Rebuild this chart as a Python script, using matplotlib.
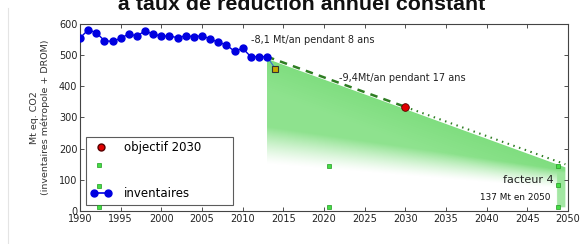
import numpy as np
import matplotlib
matplotlib.use("Agg")
import matplotlib.pyplot as plt
from matplotlib.patches import Polygon
from matplotlib.lines import Line2D
from matplotlib.legend_handler import HandlerLine2D

# inventories 1990-2013 (Mt eq. CO2)
inv_years = np.arange(1990, 2014)
inv_values = [555, 581, 572, 546, 544, 554, 568, 561, 578, 567, 561, 561,
              556, 562, 559, 562, 552, 541, 533, 512, 522, 495, 495, 495]

# estimate 2014
est_year = [2013, 2014]
est_value = [495, 457]

# trajectory: dashed to 2030 objective, dotted to 2050
traj_years = [2013, 2030]
traj_values = [495, 334]
traj2_years = [2030, 2049.7]
traj2_values = [334, 150]
obj_year = 2030
obj_value = 334

# green square markers
sq_x = [1992.3, 1992.3, 1992.3, 2020.6, 2020.6, 2048.8, 2048.8, 2048.8]
sq_y = [147, 80, 14, 145, 14, 145, 82, 14]

# shaded zone
zone_x = [2013, 2049.7, 2049.7, 2013]
zone_y = [488, 140, 12, 12]


class RightDot(HandlerLine2D):
    # single marker drawn at the right end of the handle
    def get_xdata(self, legend, xdescent, ydescent, width, height, fontsize):
        xd, xm = super().get_xdata(legend, xdescent, ydescent, width, height, fontsize)
        return xd, [xd[-1]]


fig = plt.figure(figsize=(5.8, 2.44), dpi=100)
ax = fig.add_axes([0.138, 0.135, 0.841, 0.767])

# gradient fill clipped to the zone
gx = np.linspace(2013, 2049.7, 400)
gy = np.linspace(0, 500, 400)
X, Y = np.meshgrid(gx, gy)
t = (X - 2013) / 36.7
fade0 = 150 - 80 * t
width = 120 - 60 * t
alpha = np.clip((Y - fade0) / width, 0, 1) ** 1.3
alpha = np.where(X > 2048.6, np.maximum(alpha, 0.8), alpha)
top = 488 - 348 * t
band = np.clip(1 - (top - Y) / 110, 0, 1)
img = np.zeros(X.shape + (4,))
img[..., 0] = 0.56 - 0.06 * band
img[..., 1] = 0.89 - 0.02 * band
img[..., 2] = 0.56 - 0.06 * band
img[..., 3] = alpha
poly = Polygon(list(zip(zone_x, zone_y)), closed=True, facecolor='none', edgecolor='none')
ax.add_patch(poly)
im = ax.imshow(img, extent=[gx[0], gx[-1], gy[0], gy[-1]], origin='lower',
               aspect='auto', interpolation='bilinear', zorder=1)
im.set_clip_path(poly)

ax.plot(traj_years, traj_values, color='#2e7d22', lw=1.8, ls=(0, (3, 2.5)), zorder=3)
ax.plot(traj2_years, traj2_values, color='#2e7d22', lw=1.5, ls=(0, (0.7, 2.2)), zorder=3)

ax.plot(est_year, est_value, color='#3a6fd0', lw=0.8, zorder=3)
ax.plot(est_year[1], est_value[1], marker='s', ms=4, color='#c8a800',
        mec='#333333', mew=0.8, ls='none', zorder=4)

ax.plot(inv_years, inv_values, color='#0000e0', lw=1.0, marker='o', ms=5,
        mfc='#0000e0', mec='#0000e0', zorder=5)
ax.plot(obj_year, obj_value, marker='o', ms=5.5, color='#e00000',
        mec='#550000', mew=0.6, ls='none', zorder=5)

ax.plot(sq_x, sq_y, marker='s', ms=3.2, ls='none', color='#44dd44',
        mec='#229922', mew=0.5, zorder=9)

ax.text(2011.0, 548, "-8,1 Mt/an pendant 8 ans", fontsize=7, color='#222222',
        va='center', ha='left', zorder=6)
ax.text(2021.9, 426, "-9,4Mt/an pendant 17 ans", fontsize=7, color='#222222',
        va='center', ha='left', zorder=6)
ax.text(2048.2, 100, "facteur 4", fontsize=8, color='#222222',
        va='center', ha='right', zorder=6)
ax.text(2047.9, 45, "137 Mt en 2050", fontsize=6.4, color='#111111',
        va='center', ha='right', zorder=6,
        bbox=dict(facecolor='white', edgecolor='none', pad=3))

ax.set_xlim(1990, 2050)
ax.set_ylim(0, 600)
ax.set_xticks(np.arange(1990, 2051, 5))
ax.set_yticks(np.arange(0, 601, 100))
ax.tick_params(direction='in', top=True, right=True, length=3, width=0.6,
               labelsize=7, colors='#333333', labelcolor='#222222', pad=2)
for s in ax.spines.values():
    s.set_color('#444444')
    s.set_linewidth(0.8)
ax.set_ylabel("Mt eq. CO2\n(inventaires métropole + DROM)", fontsize=6.8,
              color='#333333', labelpad=6)

h_obj = Line2D([], [], marker='o', ms=5, color='#e00000', mec='#550000', ls='none')
h_gap = Line2D([], [], ls='none')
h_inv = Line2D([], [], marker='o', ms=5, color='#0000e0', lw=1.2)
leg = ax.legend([h_obj, h_gap, h_inv], ["objectif 2030", "", "inventaires"],
                loc='lower left', handler_map={h_obj: RightDot(numpoints=1)},
                bbox_to_anchor=(0.012, 0.032, 0.301, 0.37), mode='expand',
                borderaxespad=0, fontsize=8.5, numpoints=2,
                frameon=True, fancybox=False, edgecolor='#333333',
                labelspacing=0.85, handlelength=1.8, borderpad=0.4,
                handletextpad=1.0)
leg.get_frame().set_linewidth(0.8)
leg.set_zorder(7)

fig.text(0.52, 1 - 10 / 244, "à taux de réduction annuel constant",
         fontsize=15.4, fontweight='bold', family='Liberation Sans',
         ha='center', va='baseline', color='#111111')
fig.add_artist(Line2D([8 / 580, 8 / 580], [0, 1 - 8 / 244], color='#e4e4e4',
                      lw=0.8, transform=fig.transFigure))

fig.savefig("out.png", dpi=100)
